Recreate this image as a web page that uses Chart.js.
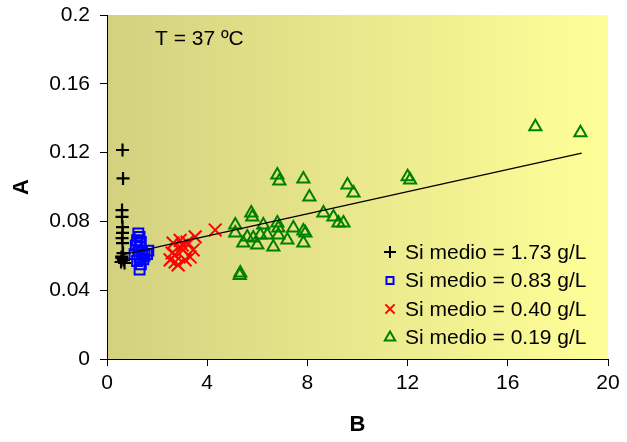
<!DOCTYPE html>
<html>
<head>
<meta charset="utf-8">
<script src="https://cdn.jsdelivr.net/npm/chart.js@4.4.1/dist/chart.umd.min.js"></script>
<style>
    html, body { margin: 0; padding: 0; background: #ffffff; }
    #grafico { display: block; }
</style>
</head>
<body>
<canvas id="grafico" width="627" height="442"></canvas>
<script>
// Series: [B, A] pairs per Si level
const siAlto = [
    [0.62, 0.1215], [0.64, 0.105], [0.60, 0.0866], [0.60, 0.0826], [0.62, 0.0767],
    [0.62, 0.0733], [0.60, 0.0703], [0.62, 0.0674], [0.64, 0.0616], [0.60, 0.0587],
    [0.56, 0.0564], [0.70, 0.0558], [0.66, 0.0575], [0.58, 0.0595]
];
const siMedio = [
    [1.25, 0.073], [1.30, 0.071], [1.20, 0.069], [1.35, 0.068], [1.15, 0.066],
    [1.30, 0.065], [1.25, 0.063], [1.40, 0.062], [1.10, 0.061], [1.50, 0.060],
    [1.60, 0.061], [1.30, 0.059], [1.45, 0.058], [1.20, 0.057], [1.35, 0.055],
    [1.30, 0.052], [1.65, 0.063]
];
const siBajo = [
    [4.32, 0.075], [3.52, 0.071], [3.20, 0.068], [2.92, 0.069], [2.64, 0.0674],
    [2.60, 0.0616], [2.72, 0.0564], [2.84, 0.0547], [3.12, 0.0576], [3.32, 0.0593],
    [3.44, 0.0634], [3.04, 0.0634], [2.72, 0.0605], [2.52, 0.0576], [3.00, 0.0663]
];
const siMinimo = [
    [6.80, 0.107], [6.88, 0.1035], [7.84, 0.1047], [8.08, 0.0942], [9.60, 0.1012],
    [9.84, 0.0965], [5.76, 0.0849], [5.80, 0.0826], [5.12, 0.0779], [5.12, 0.0733],
    [6.24, 0.0779], [6.80, 0.0791], [6.84, 0.0762], [7.44, 0.0762], [7.84, 0.0744],
    [7.92, 0.0733], [8.64, 0.0849], [9.04, 0.0826], [9.24, 0.0791], [9.44, 0.0791],
    [5.60, 0.0709], [5.44, 0.0674], [6.00, 0.0663], [6.12, 0.0721], [6.40, 0.0721],
    [6.84, 0.0721], [7.20, 0.0692], [6.64, 0.0651], [7.84, 0.0674], [5.32, 0.0500],
    [5.30, 0.0485], [5.84, 0.0703], [12.00, 0.1060], [12.10, 0.1040],
    [17.10, 0.1350], [18.90, 0.1315]
];
// linear trend over all points
const tendenciaB = [0.64, 18.95];
const tendenciaA = [0.0607, 0.1197];

const etiquetas = ['Si medio = 1.73 g/L', 'Si medio = 0.83 g/L', 'Si medio = 0.40 g/L', 'Si medio = 0.19 g/L'];
const ticksB = [0, 4, 8, 12, 16, 20];
const etiquetasB = ['0', '4', '8', '12', '16', '20'];
const ticksA = [0, 0.04, 0.08, 0.12, 0.16, 0.2];
const etiquetasA = ['0', '0.04', '0.08', '0.12', '0.16', '0.2'];
const textoTemp = 'T = 37 ºC';

const fuente = "'Liberation Sans', Arial, sans-serif";
Chart.defaults.font.family = fuente;
Chart.defaults.color = '#000';

const pares = arr => arr.map(p => ({ x: p[0], y: p[1] }));

// fondo degradado del área de trazado
const fondoPlugin = {
    id: 'fondo',
    beforeDraw(chart) {
        const { ctx, chartArea: a } = chart;
        const g = ctx.createLinearGradient(a.left, 0, a.right, 0);
        g.addColorStop(0, '#D3D17F');
        g.addColorStop(1, '#FFFF99');
        ctx.save();
        ctx.fillStyle = g;
        ctx.fillRect(a.left, a.top, a.right - a.left, a.bottom - a.top);
        ctx.restore();
    }
};

// leyenda y texto de temperatura dentro del área
const leyendaPlugin = {
    id: 'leyenda',
    afterDraw(chart) {
        const ctx = chart.ctx;
        const a = chart.chartArea;
        ctx.save();
        ctx.font = '21px ' + fuente;
        ctx.fillStyle = '#000';
        ctx.textBaseline = 'middle';
        ctx.textAlign = 'left';
        ctx.fillText(textoTemp, a.left + 48, a.top + 24);

        const tamLeyenda = [6, 5, 6.5, 6];
        chart.data.datasets.forEach((ds, i) => {
            if (!ds.enLeyenda) return;
            const y = a.top + 237 + ds.enLeyenda.fila * 28.5;
            ctx.strokeStyle = ds.borderColor;
            ctx.fillStyle = 'rgba(0,0,0,0)';
            ctx.lineWidth = 2;
            Chart.helpers.drawPoint(ctx, {
                pointStyle: ds.pointStyle,
                radius: tamLeyenda[ds.enLeyenda.fila],
                borderWidth: 2,
                rotation: 0
            }, a.left + 283, y);
            ctx.fillStyle = '#000';
            ctx.fillText(ds.label, a.left + 298, y + 1);
        });
        ctx.restore();
    }
};

const ctx = document.getElementById('grafico').getContext('2d');
new Chart(ctx, {
    type: 'scatter',
    data: {
        datasets: [
            {
                type: 'line',
                label: 'tendencia',
                data: tendenciaB.map((b, i) => ({ x: b, y: tendenciaA[i] })),
                borderColor: '#000',
                borderWidth: 1.3,
                pointRadius: 0,
                fill: false,
                order: 0
            },
            {
                label: etiquetas[0],
                data: pares(siAlto),
                pointStyle: 'cross',
                radius: 6.5,
                borderColor: '#000000',
                borderWidth: 2.2,
                backgroundColor: 'rgba(0,0,0,0)',
                order: 4,
                enLeyenda: { fila: 0 }
            },
            {
                label: etiquetas[1],
                data: pares(siMedio),
                pointStyle: 'rect',
                radius: 7,
                borderColor: '#0000FF',
                borderWidth: 2,
                backgroundColor: 'rgba(0,0,0,0)',
                order: 3,
                enLeyenda: { fila: 1 }
            },
            {
                label: etiquetas[2],
                data: pares(siBajo),
                pointStyle: 'crossRot',
                radius: 9,
                borderColor: '#FF0000',
                borderWidth: 2,
                backgroundColor: 'rgba(0,0,0,0)',
                order: 2,
                enLeyenda: { fila: 2 }
            },
            {
                label: etiquetas[3],
                data: pares(siMinimo),
                pointStyle: 'triangle',
                radius: 7,
                borderColor: '#008000',
                borderWidth: 2,
                backgroundColor: 'rgba(0,0,0,0)',
                order: 1,
                enLeyenda: { fila: 3 }
            }
        ]
    },
    options: {
        responsive: false,
        animation: false,
        devicePixelRatio: 1,
        layout: { padding: { top: 15, right: 19, left: 0, bottom: 0 } },
        plugins: {
            legend: { display: false },
            tooltip: { enabled: false }
        },
        scales: {
            x: {
                type: 'linear',
                position: 'bottom',
                min: 0,
                max: 20,
                afterBuildTicks: s => { s.ticks = ticksB.map(v => ({ value: v })); },
                afterFit: s => { s.height = 83; s.paddingLeft = 0; s.paddingRight = 0; },
                grid: { drawOnChartArea: false, drawTicks: true, tickLength: 7, color: '#000' },
                border: { color: '#000', width: 1 },
                ticks: {
                    font: { size: 21 },
                    color: '#000',
                    padding: 5,
                    maxRotation: 0,
                    callback: (v, i) => etiquetasB[i]
                },
                title: {
                    display: true,
                    text: 'B',
                    font: { size: 22, weight: 'bold' },
                    color: '#000',
                    padding: { top: 0, bottom: 4 }
                }
            },
            y: {
                type: 'linear',
                position: 'left',
                min: 0,
                max: 0.2,
                afterBuildTicks: s => { s.ticks = ticksA.map(v => ({ value: v })); },
                afterFit: s => { s.width = 107; s.paddingTop = 0; s.paddingBottom = 0; },
                grid: { drawOnChartArea: false, drawTicks: true, tickLength: 7, color: '#000' },
                border: { color: '#000', width: 1 },
                ticks: {
                    font: { size: 21 },
                    color: '#000',
                    padding: 10,
                    callback: (v, i) => etiquetasA[i]
                },
                title: {
                    display: true,
                    text: 'A',
                    font: { size: 22, weight: 'bold' },
                    color: '#000',
                    padding: { top: 9, bottom: 0 }
                }
            }
        }
    },
    plugins: [fondoPlugin, leyendaPlugin]
});
</script>
</body>
</html>
